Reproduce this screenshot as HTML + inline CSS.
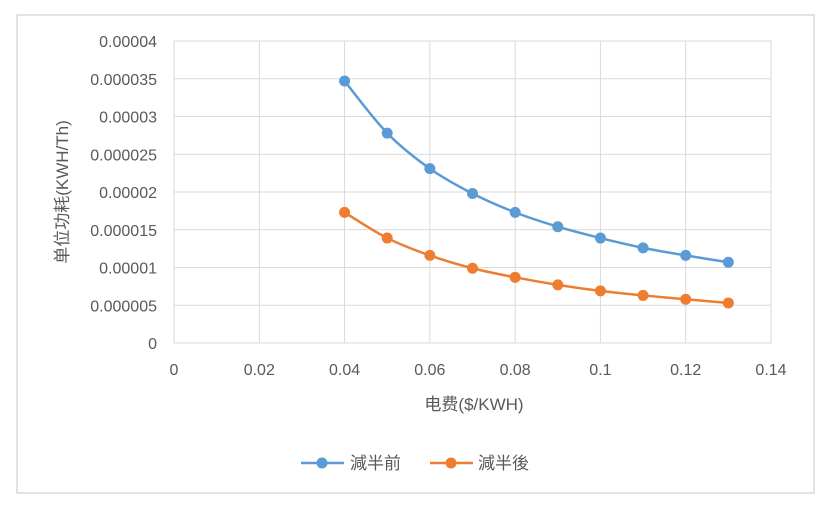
<!DOCTYPE html>
<html><head><meta charset="utf-8"><style>
html,body{margin:0;padding:0;background:#fff;}
svg{display:block;font-family:"Liberation Sans","Noto Sans CJK SC",sans-serif;}
</style></head><body>
<svg id="chart" width="830" height="508" xmlns="http://www.w3.org/2000/svg">
<rect x="17" y="15" width="797" height="478" fill="#fff" stroke="#d9d9d9" stroke-width="1.5"/>
<g id="grid"></g>
<g id="ylabels"></g>
<g id="xlabels"></g>
<g id="series"></g>
<text x="0" y="0" transform="translate(68,192) rotate(-90)" text-anchor="middle" font-size="17" fill="#595959">单位功耗(KWH/Th)</text>
<text x="474" y="410" text-anchor="middle" font-size="17" fill="#595959">电费($/KWH)</text>
<g>
<g>
<line x1="301" y1="463" x2="344" y2="463" stroke="#5b9bd5" stroke-width="2.5"/>
<circle cx="322" cy="463" r="5.5" fill="#5b9bd5"/>
<text x="350" y="469" font-size="17" fill="#595959">減半前</text></g>
<g>
<line x1="430" y1="463" x2="473" y2="463" stroke="#ed7d31" stroke-width="2.5"/>
<circle cx="451" cy="463" r="5.5" fill="#ed7d31"/>
<text x="478" y="469" font-size="17" fill="#595959">減半後</text></g>
</g>
</svg>
<script>
const categories=[0.04,0.05,0.06,0.07,0.08,0.09,0.10,0.11,0.12,0.13];
const beforeValues=[0.0000347,0.0000278,0.0000231,0.0000198,0.0000173,0.0000154,0.0000139,0.0000126,0.0000116,0.0000107];
const afterValues=[0.0000173,0.0000139,0.0000116,0.0000099,0.0000087,0.0000077,0.0000069,0.0000063,0.0000058,0.0000053];
const yTicks=["0","0.000005","0.00001","0.000015","0.00002","0.000025","0.00003","0.000035","0.00004"];
const xTicks=["0","0.02","0.04","0.06","0.08","0.1","0.12","0.14"];
const NS="http://www.w3.org/2000/svg";
const L=174,R=771,T=41,B=343,XMAX=0.14,YMAX=0.00004;
const xs=v=>L+v/XMAX*(R-L);
const ys=v=>B-v/YMAX*(B-T);
function mk(tag,attrs,parent){const e=document.createElementNS(NS,tag);for(const k in attrs)e.setAttribute(k,attrs[k]);parent.appendChild(e);return e;}
const grid=document.getElementById('grid'),yl=document.getElementById('ylabels'),xl=document.getElementById('xlabels'),ser=document.getElementById('series');
yTicks.forEach(t=>{const y=ys(parseFloat(t));
const g=mk('line',{x1:L,x2:R,y1:y,y2:y,stroke:'#d9d9d9','stroke-width':1},grid);


const tx=mk('text',{x:157,y:y+6,'text-anchor':'end','font-size':16,fill:'#595959'},yl);tx.textContent=t;

});
xTicks.forEach(t=>{const x=xs(parseFloat(t));
const g=mk('line',{x1:x,x2:x,y1:T,y2:B,stroke:'#d9d9d9','stroke-width':1},grid);


const tx=mk('text',{x:x,y:375,'text-anchor':'middle','font-size':16,fill:'#595959'},xl);tx.textContent=t;

});
function smooth(p){let d=`M${p[0][0]},${p[0][1]}`;for(let i=0;i<p.length-1;i++){const p0=p[i-1]||p[i],p1=p[i],p2=p[i+1],p3=p[i+2]||p2;const t=6;
d+=` C${p1[0]+(p2[0]-p0[0])/t},${p1[1]+(p2[1]-p0[1])/t} ${p2[0]-(p3[0]-p1[0])/t},${p2[1]-(p3[1]-p1[1])/t} ${p2[0]},${p2[1]}`;}return d;}
function draw(vals,color,name){const pts=categories.map((c,i)=>[xs(c),ys(vals[i])]);
const g=mk('g',{},ser);


const p=mk('path',{d:smooth(pts),fill:'none',stroke:color,'stroke-width':2.5},g);


pts.forEach(q=>{const c=mk('circle',{cx:q[0],cy:q[1],r:5.5,fill:color},g);

});}
draw(beforeValues,'#5b9bd5','series-before');
draw(afterValues,'#ed7d31','series-after');
</script>
</body></html>
